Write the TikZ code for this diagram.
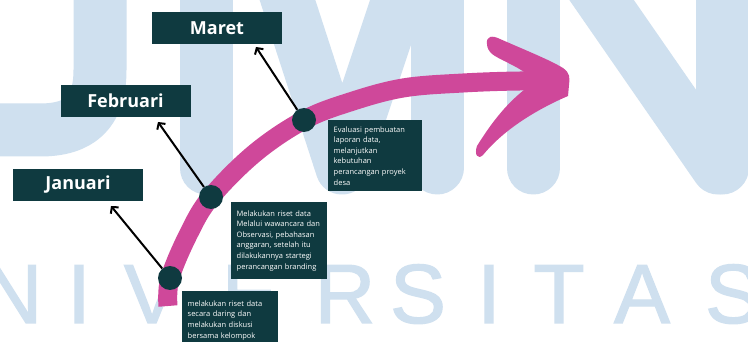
\documentclass[tikz,border=0pt]{standalone}
\usepackage{fontspec}
\setmainfont{Open Sans}
\newfontfamily\wmfont[FakeBold=1.5]{Liberation Sans}
\usetikzlibrary{arrows.meta}
\definecolor{wm}{RGB}{207,224,239}
\definecolor{darkteal}{RGB}{15,58,64}
\definecolor{pinkarr}{RGB}{207,72,154}
\tikzset{
  wmstroke/.style={draw=wm, line width=53, line cap=round, line join=round},
  wmtext/.style={text=wm, font=\wmfont\fontsize{84}{84}\selectfont, inner sep=0, anchor=base},
  month/.style={fill=darkteal, text=white, font=\bfseries\fontsize{18}{18}\selectfont,
    minimum width=130, minimum height=32, inner sep=0},
  desc/.style={fill=darkteal, text=white, font=\fontsize{7.5}{10.6}\selectfont,
    align=left, anchor=north west, inner xsep=5.5, inner ysep=0},
  dot/.style={circle, fill=darkteal, minimum size=24, inner sep=0},
  conn/.style={draw=black, line width=2, -{Straight Barb[length=4.5, width=10]}},
  pinkstroke/.style={draw=pinkarr, line cap=round, line join=round}
}
\begin{document}
\begin{tikzpicture}[x=1pt, y=-1pt]
\useasboundingbox (0,0) rectangle (748,342);
\clip (0,0) rectangle (748,342);
\fill[white] (0,0) rectangle (748,342);
% watermark UMN
\draw[wmstroke] (100,-60) -- (100,70) .. controls (100,112) and (80,130) .. (40,130) -- (-80,130);
\draw[wmstroke] (206,-60) -- (206,168);
\draw[wmstroke] (268,-60) -- (342,168) -- (418,-60);
\draw[wmstroke] (437,-60) -- (437,168);
\draw[wmstroke] (533,-60) -- (533,168);
\draw[wmstroke] (560,-60) -- (718,168);
\draw[wmstroke] (722,-60) -- (722,168);
% watermark NIVERSITAS
\node[wmtext] (w1) at (12,323) {N};
\node[wmtext] (w2) at (79,323) {I};
\node[wmtext] (w3) at (152,323) {V};
\node[wmtext] (w4) at (250,323) {E};
\node[wmtext] (w5) at (345,323) {R};
\node[wmtext] (w6) at (418,323) {S};
\node[wmtext] (w7) at (489,323) {I};
\node[wmtext] (w8) at (559,323) {T};
\node[wmtext] (w9) at (642,323) {A};
\node[wmtext] (w10) at (733,323) {S};
% pink arrow: shaft
\draw[pinkstroke, line width=19, line cap=butt] plot[smooth, tension=0.6] coordinates
  {(168,306) (170,278) (189,233) (211,197) (255,153) (304,120) (350,102) (403,88) (463,83) (520,81) (550,82)};
% pink arrow: head
\fill[pinkarr] (487,44) .. controls (486,36) and (492,35) .. (500,39)
  .. controls (525,50) and (550,60) .. (563,68)
  .. controls (570,73) and (570,78) .. (569,85)
  -- (568,96)
  .. controls (540,108) and (505,128) .. (483,155)
  .. controls (478,160) and (474,155) .. (477,146)
  .. controls (490,125) and (505,105) .. (524,90)
  -- (527,74)
  .. controls (515,65) and (500,60) .. (492,54)
  .. controls (489,51) and (487,48) .. (487,44) -- cycle;
% month boxes
\node[month] (jan) at (78,185) {Januari};
\node[month] (feb) at (125.5,101) {Februari};
\node[month] (mar) at (217,28) {Maret};
% dots
\node[dot] (d1) at (170,278) {};
\node[dot] (d2) at (211,197) {};
\node[dot] (d3) at (304,120) {};
% arrow tips
\coordinate (jtip) at (111,206);
\coordinate (ftip) at (158,122);
\coordinate (mtip) at (256,47);
\draw[conn] (d1) -- (jtip);
\draw[conn] (d2) -- (ftip);
\draw[conn] (d3) -- (mtip);
% description boxes
\node[desc, text width=85, minimum height=58] (t1) at (182,291)
  {melakukan riset data\\secara daring dan\\melakukan diskusi\\bersama kelompok};
\node[desc, text width=85, minimum height=77] (t2) at (231,202)
  {Melakukan riset data\\Melalui wawancara dan\\Observasi, pebahasan\\anggaran, setelah itu\\dilakukannya startegi\\perancangan branding};
\node[desc, text width=83, minimum height=71] (t3) at (328,120)
  {Evaluasi pembuatan\\laporan data,\\melanjutkan\\kebutuhan\\perancangan proyek\\desa};
\end{tikzpicture}
\end{document}
